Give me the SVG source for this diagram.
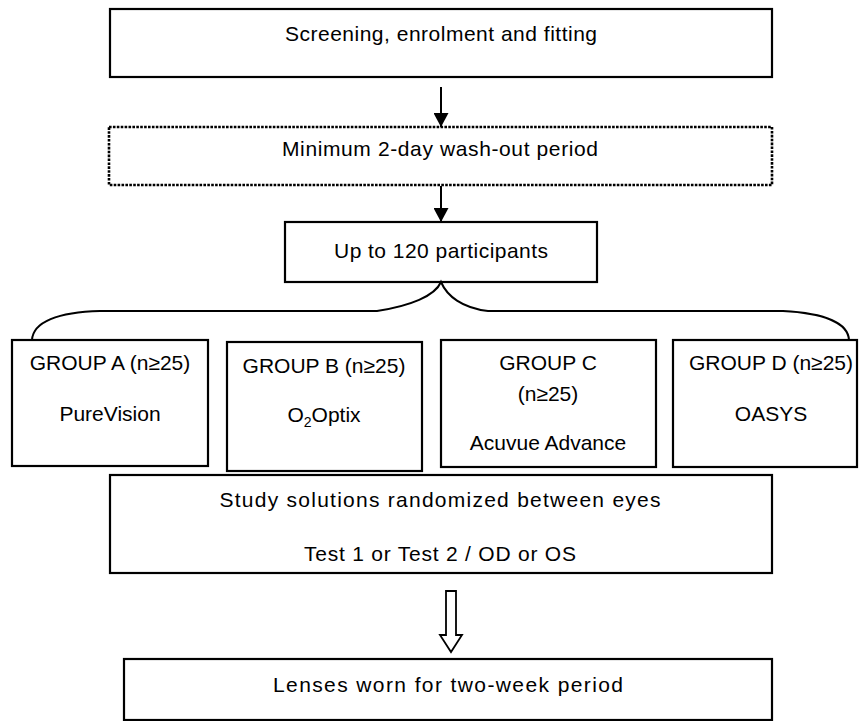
<svg xmlns="http://www.w3.org/2000/svg" width="859" height="721" viewBox="0 0 859 721">
<defs>
<style>
.box{fill:#fff;stroke:#000;stroke-width:2.2}
.dot{fill:#fff;stroke:#000;stroke-width:2.6;stroke-dasharray:2.6 1.3}
.t{font-family:"Liberation Sans",Arial,sans-serif;font-size:21px;fill:#000;text-anchor:middle}
.ln{fill:none;stroke:#000;stroke-width:2}
</style>
<marker id="ah" viewBox="0 0 14 15" refX="14" refY="7.5" markerWidth="14" markerHeight="15" markerUnits="userSpaceOnUse" orient="auto">
<path d="M0,0 L14,7.5 L0,15 Z" fill="#000"/>
</marker>
</defs>
<rect width="859" height="721" fill="#fff"/>
<g id="screening">
<rect class="box" x="110" y="9" width="662" height="68"/>
<text class="t" x="441" y="41" textLength="312" lengthAdjust="spacing">Screening, enrolment and fitting</text>
</g>
<g id="washout">
<rect class="dot" x="109" y="127" width="663" height="58"/>
<text class="t" x="440" y="156" textLength="316" lengthAdjust="spacing">Minimum 2-day wash-out period</text>
</g>
<g id="participants">
<rect class="box" x="285" y="222" width="312" height="60"/>
<text class="t" x="441" y="258" textLength="214" lengthAdjust="spacing">Up to 120 participants</text>
</g>
<g id="groupA">
<rect class="box" x="12" y="340" width="196" height="126"/>
<text class="t" x="110" y="370">GROUP A (n≥25)</text>
<text class="t" x="110" y="421">PureVision</text>
</g>
<g id="groupB">
<rect class="box" x="227" y="342" width="195" height="129"/>
<text class="t" x="324" y="373">GROUP B (n≥25)</text>
<text class="t" x="324" y="422">O<tspan font-size="14" dy="5">2</tspan><tspan dy="-5">Optix</tspan></text>
</g>
<g id="groupC">
<rect class="box" x="441" y="340" width="215" height="127"/>
<text class="t" x="548" y="370">GROUP C</text>
<text class="t" x="548" y="401">(n≥25)</text>
<text class="t" x="548" y="450">Acuvue Advance</text>
</g>
<g id="groupD">
<rect class="box" x="673" y="340" width="184" height="127"/>
<text class="t" x="771" y="370">GROUP D (n≥25)</text>
<text class="t" x="771" y="421">OASYS</text>
</g>
<g id="study">
<rect class="box" x="110" y="475" width="662" height="98"/>
<text class="t" x="440" y="507" textLength="441" lengthAdjust="spacing">Study solutions randomized between eyes</text>
<text class="t" x="440" y="561" textLength="272" lengthAdjust="spacing">Test 1 or Test 2 / OD or OS</text>
</g>
<g id="lenses">
<rect class="box" x="124" y="659" width="648" height="61"/>
<text class="t" x="448" y="692" textLength="350" lengthAdjust="spacing">Lenses worn for two-week period</text>
</g>
<g id="connectors">
<line class="ln" x1="441" y1="87" x2="441" y2="127" marker-end="url(#ah)"/>
<line class="ln" x1="441" y1="186" x2="441" y2="222" marker-end="url(#ah)"/>
<path class="ln" d="M32,340 C33,322 58,312 100,311 L377,311 C410,306 435,296 441,282 C447,296 462,308 488,311 L783,311 C822,313 848,322 849,340"/>
<polygon points="446,591 456,591 456,635 462,635 451,652 440,635 446,635" fill="#fff" stroke="#000" stroke-width="1.8" stroke-linejoin="miter"/>
</g>
</svg>
